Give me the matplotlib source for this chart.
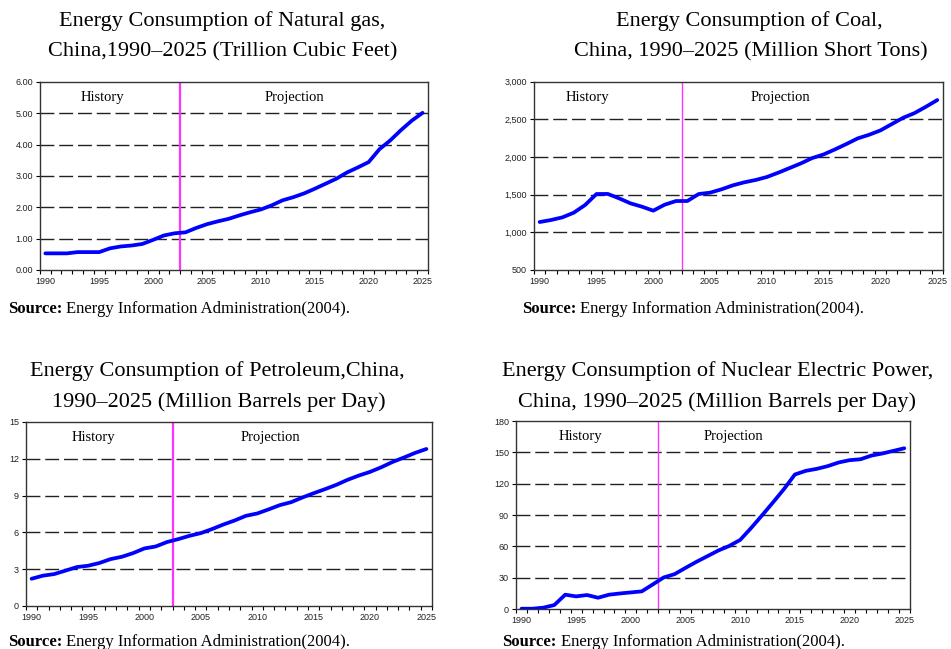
import matplotlib

matplotlib.use("Agg")

import matplotlib.pyplot as plt  # noqa: E402
from matplotlib.ticker import FixedLocator, FuncFormatter  # noqa: E402

plt.rcParams["font.family"] = ["Liberation Serif", "DejaVu Serif"]

years = list(range(1990, 2026))

natural_gas = [0.53, 0.53, 0.53, 0.57, 0.57, 0.57, 0.69, 0.75, 0.78, 0.83,
               0.96, 1.10, 1.17, 1.20, 1.34, 1.46, 1.55, 1.63, 1.74, 1.84,
               1.93, 2.06, 2.22, 2.32, 2.44, 2.59, 2.75, 2.91, 3.11, 3.27,
               3.44, 3.85, 4.13, 4.46, 4.76, 5.01]

coal = [1137, 1164, 1199, 1261, 1363, 1509, 1510, 1451, 1385, 1341,
        1288, 1367, 1416, 1416, 1509, 1527, 1571, 1624, 1664, 1695,
        1735, 1792, 1854, 1916, 1987, 2035, 2102, 2173, 2248, 2296,
        2354, 2438, 2522, 2584, 2668, 2757]

petroleum = [2.22, 2.47, 2.60, 2.88, 3.17, 3.28, 3.50, 3.82, 4.01, 4.31,
             4.69, 4.85, 5.21, 5.45, 5.72, 5.94, 6.27, 6.64, 6.97, 7.35,
             7.54, 7.87, 8.22, 8.46, 8.84, 9.19, 9.52, 9.87, 10.28, 10.63,
             10.93, 11.31, 11.74, 12.10, 12.48, 12.80]

nuclear = [0.3, 0.3, 1.3, 3.8, 13.7, 12.1, 13.4, 10.8, 13.7, 14.9,
           15.9, 16.9, 23.5, 30.2, 33.4, 39.4, 45.2, 50.6, 56.0, 60.4,
           66.2, 77.6, 89.7, 102.1, 114.8, 128.8, 132.3, 134.2, 136.8, 140.3,
           142.5, 143.4, 146.9, 148.9, 151.4, 153.9]

year_labels = [1990, 1995, 2000, 2005, 2010, 2015, 2020, 2025]
history_end = 2002.5

# one dict per panel: series, axes rect, y ticks, formatter, title lines,
# source position, History/Projection x, width of the magenta divider
panels = [
    dict(values=natural_gas,
         rect=[0.042, 0.584, 0.408, 0.290],
         yticks=[0, 1, 2, 3, 4, 5, 6],
         fmt=lambda v, p: f"{v:.2f}",
         titles=[("Energy Consumption of Natural gas,", 0.234, 0.968),
                 ("China,1990\u20132025 (Trillion Cubic Feet)", 0.234, 0.920)],
         source=(0.008, 0.524),
         labels=(1995.3, 2013.1),
         vline=1.6),
    dict(values=coal,
         rect=[0.5615, 0.584, 0.430, 0.290],
         yticks=[500, 1000, 1500, 2000, 2500, 3000],
         fmt=lambda v, p: f"{v:,.0f}",
         titles=[("Energy Consumption of Coal,", 0.788, 0.968),
                 ("China, 1990\u20132025 (Million Short Tons)", 0.789, 0.920)],
         source=(0.549, 0.524),
         labels=(1994.2, 2011.2),
         vline=1.0),
    dict(values=petroleum,
         rect=[0.0273, 0.0663, 0.427, 0.2835],
         yticks=[0, 3, 6, 9, 12, 15],
         fmt=lambda v, p: f"{v:.0f}",
         titles=[("Energy Consumption of Petroleum,China,", 0.229, 0.428),
                 ("1990\u20132025 (Million Barrels per Day)", 0.230, 0.381)],
         source=(0.008, 0.011),
         labels=(1995.5, 2011.2),
         vline=1.6),
    dict(values=nuclear,
         rect=[0.5426, 0.0616, 0.414, 0.2897],
         yticks=[0, 30, 60, 90, 120, 150, 180],
         fmt=lambda v, p: f"{v:.0f}",
         titles=[("Energy Consumption of Nuclear Electric Power,", 0.755, 0.428),
                 ("China, 1990\u20132025 (Million Barrels per Day)", 0.754, 0.381)],
         source=(0.528, 0.011),
         labels=(1995.4, 2009.4),
         vline=1.0),
]

fig = plt.figure(figsize=(9.51, 6.49), dpi=100)

for panel in panels:
    ax = fig.add_axes(panel["rect"])
    yt = panel["yticks"]

    for level in yt[1:-1]:
        ax.axhline(level, color="#222222", linewidth=1.0,
                   linestyle=(0, (10, 3.5)), zorder=1)

    ax.axvline(history_end, color="#ff33ff", linewidth=panel["vline"], zorder=2)
    ax.plot(years, panel["values"], color="#0000ff", linewidth=2.7,
            solid_capstyle="round", zorder=3)

    ax.set_xlim(1989.5, 2025.5)
    ax.set_ylim(yt[0], yt[-1])
    ax.set_yticks(yt)
    ax.yaxis.set_major_formatter(FuncFormatter(panel["fmt"]))
    ax.set_xticks(year_labels)
    ax.xaxis.set_minor_locator(FixedLocator([1989.5 + k for k in range(37)]))

    ax.tick_params(axis="x", which="major", length=0, pad=5,
                   labelsize=6.5, labelfontfamily="Liberation Sans")
    ax.tick_params(axis="x", which="minor", length=3, width=0.8, direction="out")
    ax.tick_params(axis="y", length=3, width=0.8, pad=2,
                   labelsize=6.5, labelfontfamily="Liberation Sans")
    for lab in ax.get_xticklabels() + ax.get_yticklabels():
        lab.set_color("#222222")

    for spine in ax.spines.values():
        spine.set_color("#333333")
        spine.set_linewidth(1.0)

    ax.text(panel["labels"][0], 0.915, "History", transform=ax.get_xaxis_transform(),
            ha="center", va="center", fontsize=10.5)
    ax.text(panel["labels"][1], 0.915, "Projection", transform=ax.get_xaxis_transform(),
            ha="center", va="center", fontsize=10.5)

    for text, x, y in panel["titles"]:
        fig.text(x, y, text, ha="center", va="center", fontsize=16)

    sx, sy = panel["source"]
    src = fig.text(sx, sy, "Source:", ha="left", va="center",
                   fontsize=12, fontweight="bold")
    fig.canvas.draw()
    bb = src.get_window_extent()
    fig.text((bb.x1 + 4) / fig.bbox.width, sy,
             "Energy Information Administration(2004).",
             ha="left", va="center", fontsize=12)

fig.savefig("out.png", dpi=100)
